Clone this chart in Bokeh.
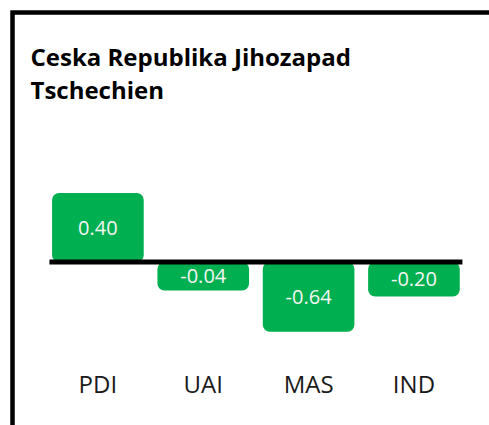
import numpy as np
from bokeh.plotting import figure
from bokeh.models import Range1d, Label, ColumnDataSource
from bokeh.core.properties import value
from bokeh.embed import file_html
from bokeh.resources import INLINE

# ---- data ----
categories = ["PDI", "UAI", "MAS", "IND"]
scores = [0.40, -0.04, -0.64, -0.20]
title_lines = ["Ceska Republika Jihozapad", "Tschechien"]

# ---- layout constants ----
W, H = 489, 425
PX_X = 105.35       # pixels per category step
X0_PX = 97.4        # pixel position of first category
PX_Y = 172.5        # pixels per unit value
BASE_PX = 261.5     # pixel position of zero line (from top)
MIN_H, MAX_H = 0.165, 0.405   # displayed bar size limits (label boxes)

x_start = -X0_PX / PX_X
x_end = x_start + W / PX_X
y_end = BASE_PX / PX_Y
y_start = -(H - BASE_PX) / PX_Y

xs = np.arange(len(categories))
v = np.array(scores)
mag = np.clip(np.abs(v), MIN_H, MAX_H)
top = np.where(v > 0, mag, 0.0)
bottom = np.where(v < 0, -mag, 0.0)

src = ColumnDataSource(dict(
    x=xs, top=top, bottom=bottom, mid=(top + bottom) / 2,
    lab=[f"{s:.2f}" for s in scores], cat=categories,
    cat_y=[y_start + (H - 383) / PX_Y] * len(categories),
))

p = figure(width=W, height=H, output_backend="svg", toolbar_location=None,
           x_range=Range1d(x_start, x_end), y_range=Range1d(y_start, y_end),
           min_border=0, min_border_left=0, min_border_right=0,
           min_border_top=0, min_border_bottom=0)
p.axis.visible = False
p.grid.visible = False
p.outline_line_color = None
p.background_fill_color = "white"
p.border_fill_color = "white"

# frame corner (top and left edges of the chart box)
fx = x_start + 12 / PX_X
fy = y_end - 12 / PX_Y
p.line(x=[fx, fx, x_end + 1], y=[y_start - 1, fy, fy], line_color="black",
       line_width=4.5, line_join="miter")

p.vbar(x="x", top="top", bottom="bottom", width=0.87, source=src,
       fill_color="#00B050", line_color=None, border_radius=7)

# zero line
p.segment(x0=[-0.46], x1=[len(categories) - 1 + 0.46], y0=[0], y1=[0],
          line_color="black", line_width=5, line_cap="butt")

# value labels
p.text(x="x", y="mid", text="lab", source=src, text_color="#F5F5F5",
       text_font=value("Open Sans"), text_font_size="20px",
       text_align="center", text_baseline="middle")

# category labels
p.text(x="x", y="cat_y", text="cat", source=src, text_color="#1a1a1a",
       text_font=value("Open Sans"), text_font_size="24px",
       text_align="center", text_baseline="middle")

# title
p.add_layout(Label(x=30, y=H - 39, x_units="screen", y_units="screen",
                   text="\n".join(title_lines), text_font="Open Sans",
                   text_font_size="24px", text_font_style="bold",
                   text_color="black", text_baseline="top",
                   text_line_height=1.0))

open("out.html", "w").write(file_html(p, INLINE))
